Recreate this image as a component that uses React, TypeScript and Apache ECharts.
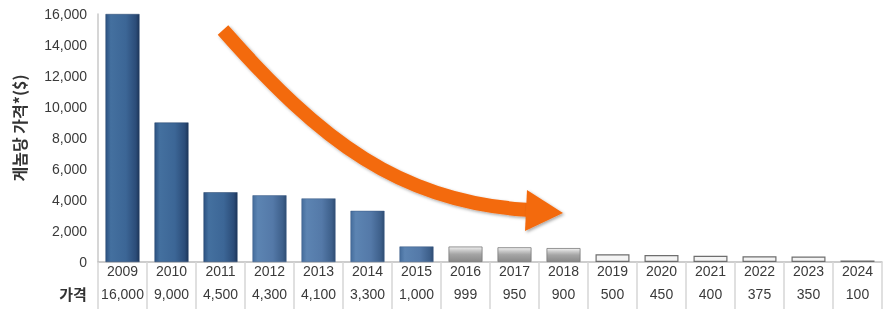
import React, { useEffect, useRef } from "react";
import * as echarts from "echarts";

const years = ["2009","2010","2011","2012","2013","2014","2015","2016","2017","2018","2019","2020","2021","2022","2023","2024"];
const prices = [16000, 9000, 4500, 4300, 4100, 3300, 1000, 999, 950, 900, 500, 450, 400, 375, 350, 100];
const yTicks = { min: 0, max: 16000, interval: 2000 };
const yTitle = "게놈당 가격*($)";
const rowTitle = "가격";

const fmt = (v: number) => v.toLocaleString("en-US");

function barStyle(i: number) {
  const h = (stops: [number, string][]) =>
    new echarts.graphic.LinearGradient(0, 0, 1, 0, stops.map(([offset, color]) => ({ offset, color })));
  if (i < 3) {
    return { color: h([[0, "#2c5282"], [0.15, "#44709f"], [0.6, "#3c6696"], [0.9, "#2b4c78"], [1, "#1c3558"]]), borderColor: "#24436b", borderWidth: 0.5 };
  }
  if (i < 7) {
    return { color: h([[0, "#456d9c"], [0.15, "#5c84b2"], [0.6, "#5479a8"], [0.9, "#3d5f8a"], [1, "#2e4c72"]]), borderColor: "#3a5a85", borderWidth: 0.5 };
  }
  if (i < 10) {
    return {
      color: new echarts.graphic.LinearGradient(0, 0, 0, 1, [
        { offset: 0, color: "#f2f2f2" },
        { offset: 0.25, color: "#c8c8c8" },
        { offset: 0.5, color: "#a5a5a5" },
        { offset: 1, color: "#8a8a8a" },
      ]),
      borderColor: "#7a7a7a",
      borderWidth: 0.8,
    };
  }
  return { color: "#f4f4f4", borderColor: "#6e6e6e", borderWidth: 1.2 };
}

export default function App() {
  const ref = useRef<HTMLDivElement>(null);
  useEffect(() => {
    if (!ref.current) return;
    const chart = echarts.init(ref.current, null, { renderer: "svg" });
    const ff = "Liberation Sans, Arial, sans-serif";
    chart.setOption({
      animation: false,
      textStyle: { fontFamily: ff },
      grid: { left: 98, right: 7, top: 14, bottom: 64, containLabel: false },
      xAxis: {
        type: "category",
        data: years,
        axisLine: { lineStyle: { color: "#bdbdbd", width: 1.5 } },
        axisTick: { show: true, length: 47, lineStyle: { color: "#d6d6d6", width: 1.5 } },
        axisLabel: {
          margin: 1,
          interval: 0,
          formatter: (v: string, i: number) => `{a|${v}}\n{b|${fmt(prices[i])}}`,
          rich: {
            a: { fontSize: 14, lineHeight: 16, color: "#3a3a3a", fontFamily: ff },
            b: { fontSize: 14, lineHeight: 30, color: "#3a3a3a", fontFamily: ff },
          },
        },
      },
      yAxis: {
        type: "value",
        min: yTicks.min,
        max: yTicks.max,
        interval: yTicks.interval,
        axisLine: { show: true, lineStyle: { color: "#c8c8c8", width: 1.5 } },
        axisTick: { show: false },
        splitLine: { show: false },
        axisLabel: { margin: 11, fontSize: 14, color: "#3a3a3a", formatter: (v: number) => fmt(v) },
      },
      series: [
        {
          type: "bar",
          barWidth: 34,
          data: prices.map((v, i) => ({ value: v, itemStyle: barStyle(i) })),
        },
      ],
      graphic: [
        {
          type: "text",
          x: 19,
          y: 128,
          rotation: Math.PI / 2,
          style: {
            text: yTitle,
            fontSize: 16,
            fontWeight: "bold",
            fill: "#333",
            align: "center",
            verticalAlign: "middle",
            fontFamily: "Noto Sans CJK KR, sans-serif",
          },
        },
        {
          type: "text",
          x: 73,
          y: 293,
          style: {
            text: rowTitle,
            fontSize: 15,
            fontWeight: "bold",
            fill: "#333",
            align: "center",
            verticalAlign: "middle",
            fontFamily: "Noto Sans CJK KR, sans-serif",
          },
        },
        {
          type: "bezierCurve",
          shape: { x1: 223, y1: 30, cpx1: 320, cpy1: 140, cpx2: 400, cpy2: 203, x2: 530, y2: 210 },
          style: {
            stroke: "#f36a10",
            lineWidth: 14,
            fill: null,
            shadowBlur: 3,
            shadowColor: "rgba(0,0,0,0.35)",
            shadowOffsetX: 1.5,
            shadowOffsetY: 1.5,
          },
        },
        {
          type: "polygon",
          shape: { points: [[527, 190], [563, 213], [525, 231]] },
          style: {
            fill: "#f36a10",
            shadowBlur: 3,
            shadowColor: "rgba(0,0,0,0.35)",
            shadowOffsetX: 1.5,
            shadowOffsetY: 1.5,
          },
        },
      ],
    });
    return () => chart.dispose();
  }, []);
  return <div ref={ref} style={{ position: "fixed", left: 0, top: 0, width: 889, height: 326 }} />;
}
